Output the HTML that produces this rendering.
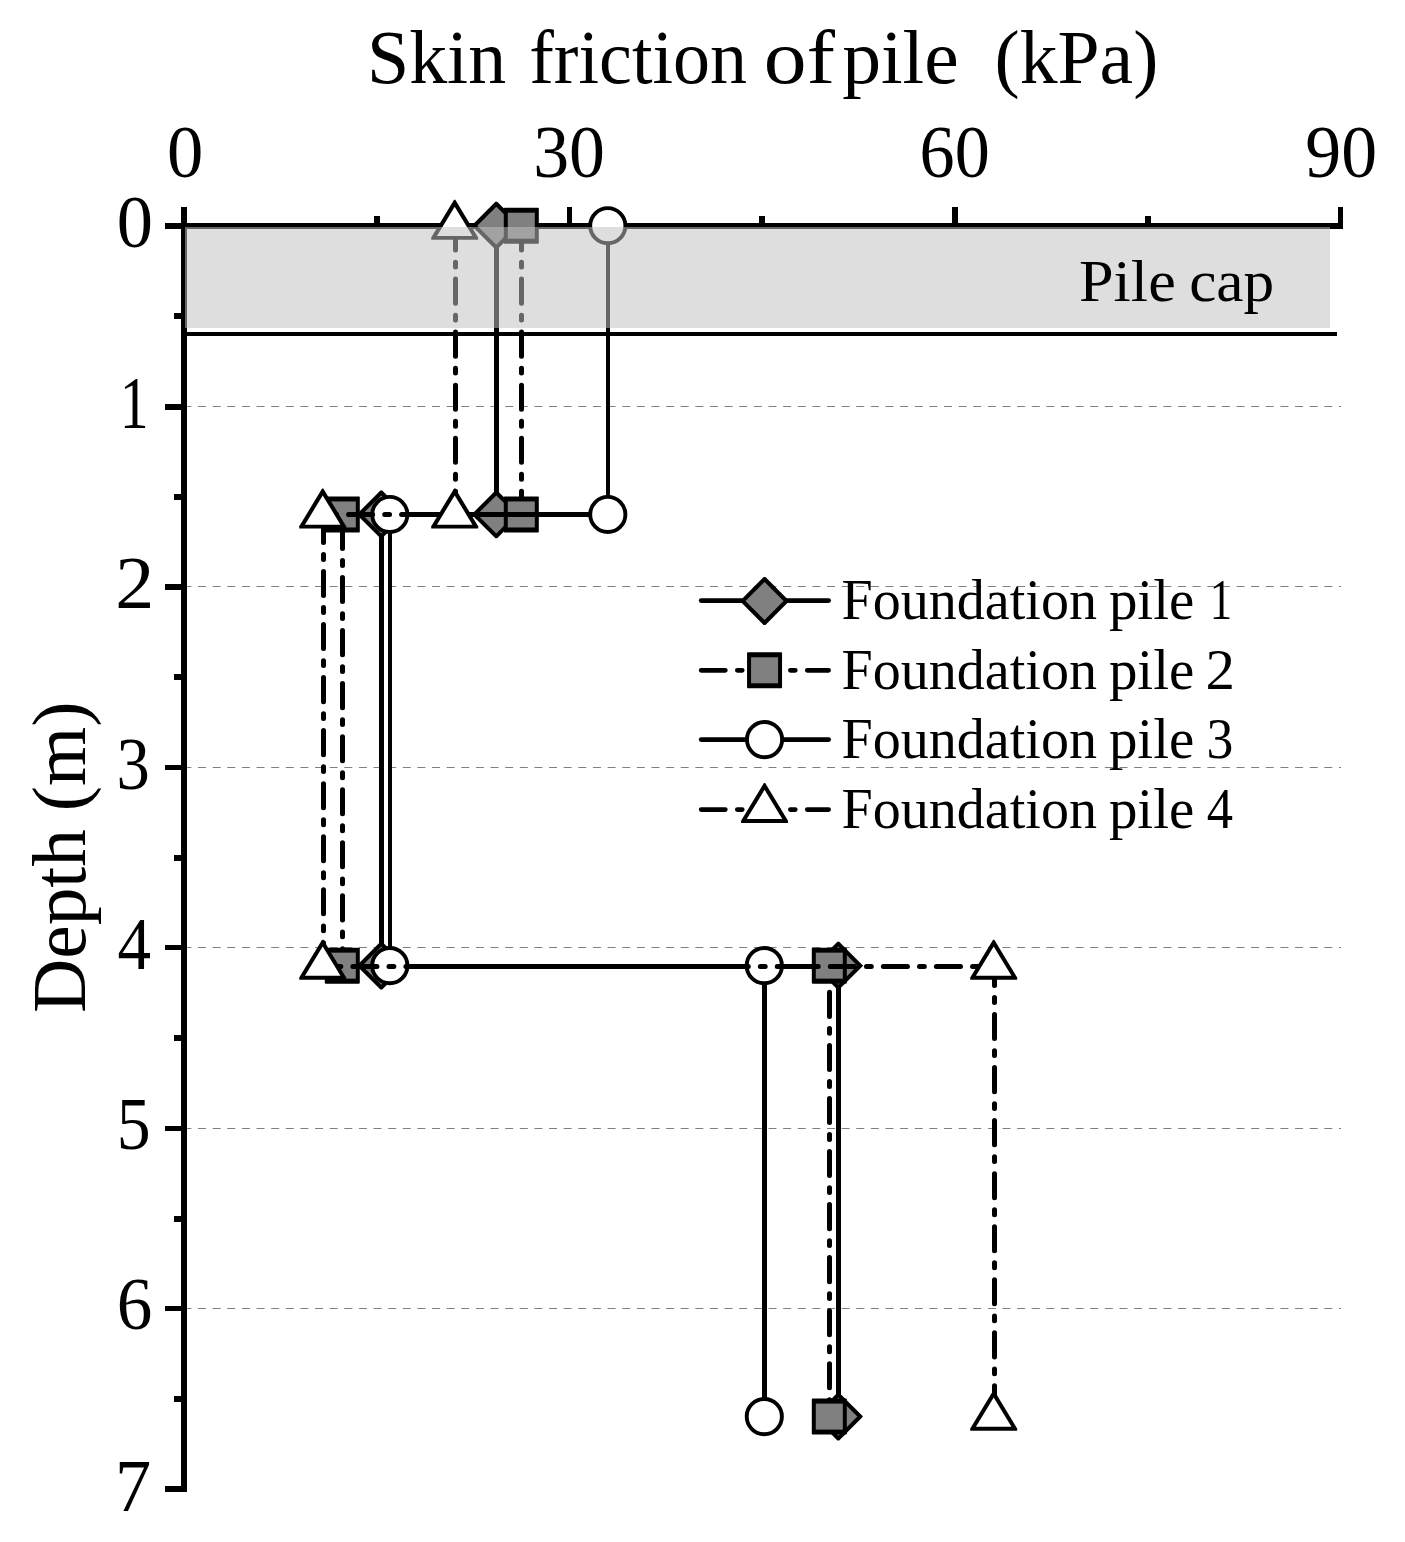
<!DOCTYPE html>
<html><head><meta charset="utf-8"><title>Skin friction of pile</title>
<style>html,body{margin:0;padding:0;background:#fff}body{width:1405px;height:1542px;overflow:hidden}svg{display:block}text{font-family:"Liberation Serif",serif;fill:#000;font-kerning:none;font-variant-ligatures:none;white-space:pre}</style>
</head><body>
<svg width="1405" height="1542" viewBox="0 0 1405 1542">
<rect width="1405" height="1542" fill="#fff"/>
<g stroke="#808080" stroke-width="1" stroke-dasharray="8 6.627" fill="none">
<line x1="183.4" y1="406.5" x2="1341" y2="406.5"/>
<line x1="183.4" y1="586.5" x2="1341" y2="586.5"/>
<line x1="183.4" y1="767.5" x2="1341" y2="767.5"/>
<line x1="183.4" y1="947.5" x2="1341" y2="947.5"/>
<line x1="183.4" y1="1128.5" x2="1341" y2="1128.5"/>
<line x1="183.4" y1="1308.5" x2="1341" y2="1308.5"/>
</g>
<g fill="#000">
<rect x="181" y="207" width="6" height="1285"/>
<rect x="165" y="223" width="1178" height="6"/>
<rect x="567" y="207" width="5" height="17"/>
<rect x="952" y="207" width="6" height="17"/>
<rect x="1338" y="207" width="5" height="22"/>
<rect x="374" y="216" width="6" height="8"/>
<rect x="759" y="216" width="6" height="8"/>
<rect x="1145" y="216" width="6" height="8"/>
<rect x="165" y="404" width="17" height="6"/>
<rect x="165" y="584" width="17" height="6"/>
<rect x="165" y="765" width="17" height="5"/>
<rect x="165" y="945" width="17" height="5"/>
<rect x="165" y="1126" width="17" height="5"/>
<rect x="165" y="1306" width="17" height="5"/>
<rect x="165" y="1486" width="17" height="6"/>
<rect x="174" y="313" width="8" height="6"/>
<rect x="174" y="494" width="8" height="6"/>
<rect x="174" y="674" width="8" height="6"/>
<rect x="174" y="855" width="8" height="6"/>
<rect x="174" y="1035" width="8" height="6"/>
<rect x="174" y="1216" width="8" height="6"/>
<rect x="174" y="1396" width="8" height="6"/>
</g>
<path d="M496.50 226.00L496.50 514.50" fill="none" stroke="#000" stroke-width="5" stroke-linecap="round"/>
<path d="M496.50 514.50L381.50 514.50" fill="none" stroke="#000" stroke-width="5" stroke-linecap="round"/>
<path d="M381.50 514.50L381.50 966.50" fill="none" stroke="#000" stroke-width="5" stroke-linecap="round"/>
<path d="M381.50 966.50L838.50 966.50" fill="none" stroke="#000" stroke-width="5" stroke-linecap="round"/>
<path d="M838.50 966.50L838.50 1416.60" fill="none" stroke="#000" stroke-width="5" stroke-linecap="round"/>
<polygon points="495.40,201.80 497.20,201.80 520.60,225.20 520.60,226.20 497.20,249.60 495.40,249.60 472.00,226.20 472.00,225.20" fill="#000"/><polygon points="496.30,206.65 515.35,225.70 496.30,244.75 477.25,225.70" fill="#808080"/>
<polygon points="495.40,490.55 497.20,490.55 520.60,513.95 520.60,514.95 497.20,538.35 495.40,538.35 472.00,514.95 472.00,513.95" fill="#000"/><polygon points="496.30,495.40 515.35,514.45 496.30,533.50 477.25,514.45" fill="#808080"/>
<polygon points="380.40,490.55 382.20,490.55 405.60,513.95 405.60,514.95 382.20,538.35 380.40,538.35 357.00,514.95 357.00,513.95" fill="#000"/><polygon points="381.30,495.40 400.35,514.45 381.30,533.50 362.25,514.45" fill="#808080"/>
<polygon points="380.40,941.75 382.20,941.75 405.60,965.15 405.60,966.15 382.20,989.55 380.40,989.55 357.00,966.15 357.00,965.15" fill="#000"/><polygon points="381.30,946.60 400.35,965.65 381.30,984.70 362.25,965.65" fill="#808080"/>
<polygon points="837.40,941.75 839.20,941.75 862.60,965.15 862.60,966.15 839.20,989.55 837.40,989.55 814.00,966.15 814.00,965.15" fill="#000"/><polygon points="838.30,946.60 857.35,965.65 838.30,984.70 819.25,965.65" fill="#808080"/>
<polygon points="837.40,1392.70 839.20,1392.70 862.60,1416.10 862.60,1417.10 839.20,1440.50 837.40,1440.50 814.00,1417.10 814.00,1416.10" fill="#000"/><polygon points="838.30,1397.55 857.35,1416.60 838.30,1435.65 819.25,1416.60" fill="#808080"/>
<path d="M521.50 226.00L521.50 514.50" fill="none" stroke="#000" stroke-width="5" stroke-linecap="round" stroke-dasharray="24.1 12.05 4.85 12.05" stroke-dashoffset="0.00"/>
<path d="M521.50 514.50L342.50 514.50" fill="none" stroke="#000" stroke-width="5" stroke-linecap="round" stroke-dasharray="24.1 12.05 4.85 12.05" stroke-dashoffset="23.25"/>
<path d="M342.50 514.50L342.50 966.50" fill="none" stroke="#000" stroke-width="5" stroke-linecap="round" stroke-dasharray="24.1 12.05 4.85 12.05" stroke-dashoffset="43.10"/>
<path d="M342.50 966.50L829.50 966.50" fill="none" stroke="#000" stroke-width="5" stroke-linecap="round" stroke-dasharray="24.1 12.05 4.85 12.05" stroke-dashoffset="17.65"/>
<path d="M829.50 966.50L829.50 1416.60" fill="none" stroke="#000" stroke-width="5" stroke-linecap="round" stroke-dasharray="24.1 12.05 4.85 12.05" stroke-dashoffset="27.20"/>
<rect x="503.80" y="207.70" width="35" height="36" rx="0.8" fill="#000"/><rect x="507.80" y="212.70" width="27" height="26" fill="#808080"/>
<rect x="503.80" y="496.45" width="35" height="36" rx="0.8" fill="#000"/><rect x="507.80" y="501.45" width="27" height="26" fill="#808080"/>
<rect x="324.80" y="496.45" width="35" height="36" rx="0.8" fill="#000"/><rect x="328.80" y="501.45" width="27" height="26" fill="#808080"/>
<rect x="324.80" y="947.65" width="35" height="36" rx="0.8" fill="#000"/><rect x="328.80" y="952.65" width="27" height="26" fill="#808080"/>
<rect x="811.80" y="947.65" width="35" height="36" rx="0.8" fill="#000"/><rect x="815.80" y="952.65" width="27" height="26" fill="#808080"/>
<rect x="811.80" y="1398.60" width="35" height="36" rx="0.8" fill="#000"/><rect x="815.80" y="1403.60" width="27" height="26" fill="#808080"/>
<path d="M608.00 226.00L608.00 514.50" fill="none" stroke="#000" stroke-width="4" stroke-linecap="round"/>
<path d="M608.00 514.50L390.00 514.50" fill="none" stroke="#000" stroke-width="5" stroke-linecap="round"/>
<path d="M390.00 514.50L390.00 966.50" fill="none" stroke="#000" stroke-width="4" stroke-linecap="round"/>
<path d="M390.00 966.50L764.50 966.50" fill="none" stroke="#000" stroke-width="5" stroke-linecap="round"/>
<path d="M764.50 966.50L764.50 1416.60" fill="none" stroke="#000" stroke-width="5" stroke-linecap="round"/>
<circle cx="607.80" cy="225.70" r="17.6" fill="#fff" stroke="#000" stroke-width="3.9"/>
<circle cx="607.80" cy="514.45" r="17.6" fill="#fff" stroke="#000" stroke-width="3.9"/>
<circle cx="389.80" cy="514.45" r="17.6" fill="#fff" stroke="#000" stroke-width="3.9"/>
<circle cx="389.80" cy="965.65" r="17.6" fill="#fff" stroke="#000" stroke-width="3.9"/>
<circle cx="764.30" cy="965.65" r="17.6" fill="#fff" stroke="#000" stroke-width="3.9"/>
<circle cx="764.30" cy="1416.60" r="17.6" fill="#fff" stroke="#000" stroke-width="3.9"/>
<path d="M455.50 226.00L455.50 514.50" fill="none" stroke="#000" stroke-width="5" stroke-linecap="round" stroke-dasharray="24.1 12.05 4.85 12.05" stroke-dashoffset="0.00"/>
<path d="M455.50 514.50L323.50 514.50" fill="none" stroke="#000" stroke-width="5" stroke-linecap="round" stroke-dasharray="24.1 12.05 4.85 12.05" stroke-dashoffset="23.25"/>
<path d="M323.50 514.50L323.50 966.50" fill="none" stroke="#000" stroke-width="5" stroke-linecap="round" stroke-dasharray="24.1 12.05 4.85 12.05" stroke-dashoffset="49.15"/>
<path d="M323.50 966.50L994.50 966.50" fill="none" stroke="#000" stroke-width="5" stroke-linecap="round" stroke-dasharray="24.1 12.05 4.85 12.05" stroke-dashoffset="23.70"/>
<path d="M994.50 966.50L994.50 1416.60" fill="none" stroke="#000" stroke-width="5" stroke-linecap="round" stroke-dasharray="24.1 12.05 4.85 12.05" stroke-dashoffset="5.05"/>
<polygon points="454.10,199.75 455.30,199.75 478.15,237.49 478.15,239.75 431.25,239.75 431.25,237.49" fill="#000"/><polygon points="454.70,206.65 472.45,235.92 436.95,235.92" fill="#fff"/>
<polygon points="454.10,488.50 455.30,488.50 478.15,526.24 478.15,528.50 431.25,528.50 431.25,526.24" fill="#000"/><polygon points="454.70,495.40 472.45,524.67 436.95,524.67" fill="#fff"/>
<polygon points="322.10,488.50 323.30,488.50 346.15,526.24 346.15,528.50 299.25,528.50 299.25,526.24" fill="#000"/><polygon points="322.70,495.40 340.45,524.67 304.95,524.67" fill="#fff"/>
<polygon points="322.10,939.70 323.30,939.70 346.15,977.44 346.15,979.70 299.25,979.70 299.25,977.44" fill="#000"/><polygon points="322.70,946.60 340.45,975.87 304.95,975.87" fill="#fff"/>
<polygon points="993.10,939.70 994.30,939.70 1017.15,977.44 1017.15,979.70 970.25,979.70 970.25,977.44" fill="#000"/><polygon points="993.70,946.60 1011.45,975.87 975.95,975.87" fill="#fff"/>
<polygon points="993.10,1390.65 994.30,1390.65 1017.15,1428.39 1017.15,1430.65 970.25,1430.65 970.25,1428.39" fill="#000"/><polygon points="993.70,1397.55 1011.45,1426.82 975.95,1426.82" fill="#fff"/>
<rect x="185" y="227" width="1145" height="101" fill="#c0c0c0" fill-opacity="0.53"/>
<rect x="187" y="332" width="1150" height="4" fill="#000"/>
<path d="M701.2 600.6L828.6 600.6" fill="none" stroke="#000" stroke-width="4.8" stroke-linecap="round"/>
<polygon points="763.65,577.10 765.45,577.10 788.85,600.50 788.85,601.50 765.45,624.90 763.65,624.90 740.25,601.50 740.25,600.50" fill="#000"/><polygon points="764.55,581.95 783.60,601.00 764.55,620.05 745.50,601.00" fill="#808080"/>
<text transform="translate(841.48 619.00) scale(0.9929 1)" font-size="56.5">Foundation</text>
<text transform="translate(1108.88 619.00) scale(1.0079 1)" font-size="56.5">pile</text>
<text transform="translate(1209.66 619.00) scale(0.7943 1)" font-size="56.5">1</text>
<path d="M701.2 670.3L828.6 670.3" fill="none" stroke="#000" stroke-width="4.8" stroke-linecap="round" stroke-dasharray="24.1 12.05 4.85 12.05"/>
<rect x="747.05" y="652.30" width="35" height="36" rx="0.8" fill="#000"/><rect x="751.05" y="657.30" width="27" height="26" fill="#808080"/>
<text transform="translate(841.48 688.90) scale(0.9929 1)" font-size="56.5">Foundation</text>
<text transform="translate(1108.88 688.90) scale(1.0079 1)" font-size="56.5">pile</text>
<text transform="translate(1205.51 688.90) scale(1.0420 1)" font-size="56.5">2</text>
<path d="M701.2 739.6L828.6 739.6" fill="none" stroke="#000" stroke-width="4.8" stroke-linecap="round"/>
<circle cx="764.55" cy="739.60" r="17.6" fill="#fff" stroke="#000" stroke-width="3.9"/>
<text transform="translate(841.48 758.30) scale(0.9929 1)" font-size="56.5">Foundation</text>
<text transform="translate(1108.88 758.30) scale(1.0079 1)" font-size="56.5">pile</text>
<text transform="translate(1206.43 758.30) scale(0.9512 1)" font-size="56.5">3</text>
<path d="M701.2 809.6L828.6 809.6" fill="none" stroke="#000" stroke-width="4.8" stroke-linecap="round" stroke-dasharray="24.1 12.05 4.85 12.05"/>
<polygon points="763.95,782.90 765.15,782.90 788.00,820.64 788.00,822.90 741.10,822.90 741.10,820.64" fill="#000"/><polygon points="764.55,789.80 782.30,819.07 746.80,819.07" fill="#fff"/>
<text transform="translate(841.48 827.80) scale(0.9929 1)" font-size="56.5">Foundation</text>
<text transform="translate(1108.88 827.80) scale(1.0079 1)" font-size="56.5">pile</text>
<text transform="translate(1206.67 827.80) scale(0.9290 1)" font-size="56.5">4</text>
<text transform="translate(366.92 82.80) scale(1.0082 1)" font-size="75.3">Skin</text>
<text transform="translate(529.22 82.80) scale(0.9831 1)" font-size="75.3">friction</text>
<text transform="translate(763.74 82.80) scale(1.1360 1)" font-size="75.3">of</text>
<text transform="translate(842.15 82.80) scale(1.0322 1)" font-size="75.3">pile</text>
<text transform="translate(994.48 82.80) scale(1.0046 1)" font-size="75.3">(kPa)</text>
<text transform="translate(166.93 176.80) scale(0.9794 1)" font-size="74.2">0</text>
<text transform="translate(533.17 176.80) scale(0.9672 1)" font-size="74.2">30</text>
<text transform="translate(919.58 176.80) scale(0.9459 1)" font-size="74.2">60</text>
<text transform="translate(1305.29 176.80) scale(0.9669 1)" font-size="74.2">90</text>
<text transform="translate(116.84 247.30) scale(0.9749 1)" font-size="74.3">0</text>
<text transform="translate(119.83 428.00) scale(0.7761 1)" font-size="74.3">1</text>
<text transform="translate(115.37 608.00) scale(1.0509 1)" font-size="74.3">2</text>
<text transform="translate(116.61 789.30) scale(0.8960 1)" font-size="74.3">3</text>
<text transform="translate(117.59 968.90) scale(0.9034 1)" font-size="74.3">4</text>
<text transform="translate(116.86 1149.30) scale(0.9121 1)" font-size="74.3">5</text>
<text transform="translate(116.74 1329.30) scale(0.9576 1)" font-size="74.3">6</text>
<text transform="translate(115.03 1511.00) scale(0.9730 1)" font-size="74.3">7</text>
<text transform="translate(84.9 1013.07) rotate(-90) scale(0.9970 1)" font-size="75.5">Depth</text>
<text transform="translate(84.9 811.24) rotate(-90) scale(1.0061 1)" font-size="75.5">(m)</text>
<text transform="translate(1079.01 300.60) scale(1.0365 1)" font-size="60">Pile</text>
<text transform="translate(1189.17 300.60) scale(1.0212 1)" font-size="60">cap</text>
</svg></body></html>
